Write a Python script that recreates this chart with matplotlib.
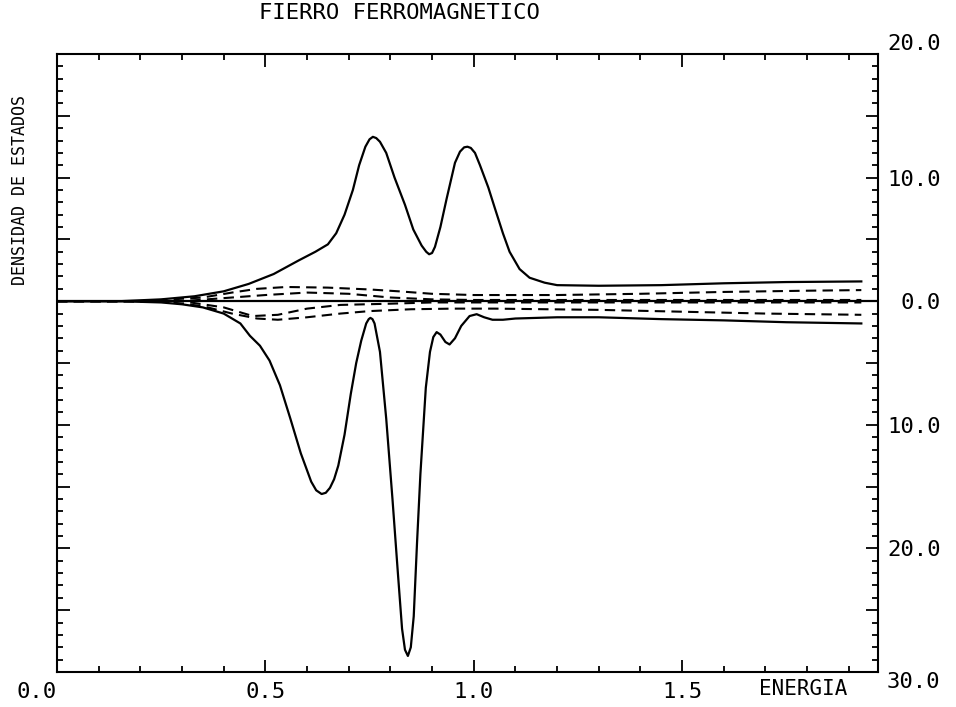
import matplotlib
matplotlib.use('Agg')
import matplotlib.pyplot as plt
from matplotlib.ticker import MultipleLocator

plt.rcParams['font.family'] = ['DejaVu Sans Mono', 'DejaVu Sans']

# densidad total, spin mayoritario (arriba)
up_e = [0.0, 0.15, 0.25, 0.33, 0.40, 0.46, 0.52, 0.58, 0.62, 0.65, 0.67, 0.69, 0.71, 0.725,
        0.74, 0.75, 0.758, 0.766, 0.775, 0.79, 0.81, 0.835, 0.855, 0.875, 0.886, 0.893,
        0.9, 0.907, 0.92, 0.935, 0.955, 0.967, 0.977, 0.985, 0.993, 1.003, 1.015, 1.035,
        1.05, 1.07, 1.086, 1.11, 1.134, 1.17, 1.2, 1.3, 1.45, 1.6, 1.75, 1.93]
up_d = [0.0, 0.0, 0.15, 0.4, 0.8, 1.4, 2.2, 3.3, 4.0, 4.6, 5.5, 7.0, 9.0, 11.0,
        12.5, 13.1, 13.3, 13.2, 12.9, 12.0, 10.0, 7.8, 5.8, 4.5, 4.0, 3.8,
        3.9, 4.4, 6.0, 8.3, 11.2, 12.1, 12.45, 12.5, 12.4, 12.0, 11.0, 9.2,
        7.6, 5.5, 4.0, 2.6, 1.9, 1.5, 1.3, 1.25, 1.3, 1.45, 1.55, 1.6]

# densidad total, spin minoritario (abajo)
dn_e = [0.0, 0.15, 0.25, 0.30, 0.35, 0.40, 0.44, 0.463, 0.487, 0.51, 0.535, 0.56, 0.585,
        0.61, 0.622, 0.635, 0.645, 0.655, 0.665, 0.675, 0.69, 0.705, 0.718, 0.73, 0.742,
        0.748, 0.752, 0.757, 0.762, 0.775, 0.79, 0.805, 0.818, 0.828, 0.835, 0.842, 0.849,
        0.856, 0.864, 0.872, 0.885, 0.895, 0.903, 0.911, 0.92, 0.932, 0.942, 0.955, 0.97,
        0.99, 1.007, 1.025, 1.045, 1.07, 1.1, 1.2, 1.3, 1.45, 1.6, 1.75, 1.93]
dn_d = [0.0, 0.0, -0.1, -0.25, -0.5, -1.0, -1.8, -2.8, -3.6, -4.8, -6.8, -9.5, -12.3,
        -14.6, -15.3, -15.6, -15.5, -15.1, -14.4, -13.3, -10.8, -7.5, -5.0, -3.2, -1.8,
        -1.45, -1.35, -1.45, -1.8, -4.1, -9.5, -16.0, -22.0, -26.5, -28.2, -28.7, -28.0,
        -25.5, -19.5, -14.0, -7.0, -4.1, -2.9, -2.5, -2.7, -3.3, -3.5, -3.0, -2.0,
        -1.2, -1.05, -1.3, -1.5, -1.5, -1.4, -1.3, -1.3, -1.45, -1.55, -1.7, -1.8]

# contribuciones parciales (lineas de trazos)
p1_up_e = [0.0, 0.2, 0.35, 0.42, 0.48, 0.55, 0.65, 0.75, 0.82, 0.9, 1.0, 1.2, 1.4, 1.6, 1.8, 1.93]
p1_up_d = [0.0, 0.0, 0.3, 0.7, 1.0, 1.15, 1.1, 0.95, 0.8, 0.6, 0.5, 0.5, 0.6, 0.75, 0.85, 0.9]
p2_up_e = [0.0, 0.3, 0.42, 0.5, 0.6, 0.7, 0.8, 0.9, 1.0, 1.4, 1.93]
p2_up_d = [0.0, 0.0, 0.3, 0.5, 0.7, 0.6, 0.3, 0.15, 0.1, 0.1, 0.1]
p1_dn_e = [0.0, 0.25, 0.35, 0.42, 0.48, 0.53, 0.6, 0.68, 0.75, 0.85, 0.95, 1.05, 1.3, 1.5, 1.7, 1.93]
p1_dn_d = [0.0, 0.0, -0.4, -1.0, -1.4, -1.5, -1.3, -1.0, -0.8, -0.65, -0.6, -0.6, -0.7, -0.85, -1.0, -1.1]
p2_dn_e = [0.0, 0.3, 0.4, 0.47, 0.53, 0.6, 0.68, 0.8, 0.9, 1.4, 1.93]
p2_dn_d = [0.0, 0.0, -0.5, -1.2, -1.1, -0.6, -0.3, -0.2, -0.1, -0.1, -0.1]

x_ticks = [0.0, 0.5, 1.0, 1.5]
x_labels = ['0.0', '0.5', '1.0', '1.5']
y_ticks = [20, 15, 10, 5, 0, -5, -10, -15, -20, -25, -30]
y_labels = ['20.0', '', '10.0', '', '0.0', '', '10.0', '', '20.0', '', '30.0']

fig = plt.figure(figsize=(9.56, 7.07), dpi=100)
ax = fig.add_axes([0.0596, 0.0495, 0.8588, 0.8741])

lw = 1.6
dash = (0, (5, 3))
ax.axhline(0, color='black', lw=lw)
ax.plot(up_e, up_d, color='black', lw=lw)
ax.plot(dn_e, dn_d, color='black', lw=lw)
for e, d in [(p1_up_e, p1_up_d), (p2_up_e, p2_up_d), (p1_dn_e, p1_dn_d), (p2_dn_e, p2_dn_d)]:
    ax.plot(e, d, color='black', lw=1.5, ls=dash)

ax.set_xlim(0, 1.97)
ax.set_ylim(-30, 20)

for s in ax.spines.values():
    s.set_linewidth(1.5)

ax.set_xticks(x_ticks, x_labels)
ax.set_yticks(y_ticks, y_labels)
ax.xaxis.set_minor_locator(MultipleLocator(0.1))
ax.yaxis.set_minor_locator(MultipleLocator(1))
ax.tick_params(which='both', direction='in', top=True, bottom=True, left=True, right=True,
               labelleft=False, labelright=True, width=1.3)
ax.tick_params(which='major', length=9)
ax.tick_params(which='minor', length=4)
ax.tick_params(axis='x', which='major', labelsize=16, pad=7)
ax.tick_params(axis='y', which='major', labelsize=16, pad=45)

# etiquetas derechas alineadas a la derecha, extremos desplazados hacia fuera
ylbls = ax.get_yticklabels()
for lbl in ylbls:
    lbl.set_ha('right')
ylbls[0].set_va('bottom')
ylbls[-1].set_va('top')
ax.get_xticklabels()[0].set_ha('right')

ax.text(1.79, -30.6, 'ENERGIA', ha='center', va='top', fontsize=15, clip_on=False)
ax.text(-0.045, 0.78, 'DENSIDAD DE ESTADOS', rotation=90, ha='center', va='center',
        fontsize=12, transform=ax.transAxes)
fig.text(0.418, 0.982, 'FIERRO FERROMAGNETICO', ha='center', va='center', fontsize=16)

fig.savefig('out.png', dpi=100)
